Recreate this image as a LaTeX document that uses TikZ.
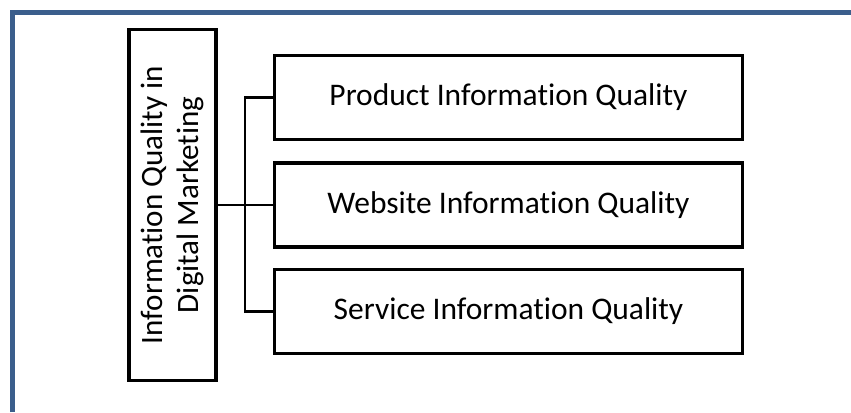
\documentclass[tikz,border=0pt]{standalone}
\usepackage{fontspec}
\setmainfont{Carlito}[Ligatures=NoCommon]
\usepackage{tikz}
\definecolor{framecol}{RGB}{59,94,140}
\tikzset{infobox/.style={draw, line width=2.6pt, minimum width=351pt, minimum height=63pt, inner sep=0pt, font=\fontsize{23.6}{28}\selectfont}}
\tikzset{mainbox/.style={draw, line width=2.6pt, rotate=90, minimum width=263pt, minimum height=65pt, inner sep=0pt, align=center, font=\fontsize{23.3}{27}\selectfont}}

\begin{document}
\begin{tikzpicture}[x=0.75pt,y=-0.75pt]
  \useasboundingbox (0,0) rectangle (851,412);
  % frame
  \draw[framecol, line width=3.2pt] (12.5,412) -- (12.5,12.5) -- (851,12.5);
  \node[mainbox] (main) at (172.5,205) {Information Quality in\\Digital Marketing};
  \foreach \y/\lab/\txt in {
    97.5/prod/Product Information Quality,
    205/web/Website Information Quality,
    311.5/serv/Service Information Quality%
  } {
    \node[infobox] (\lab) at (508.5,\y) {\txt};
  }
  \coordinate (top) at (245,97.5);
  \coordinate (bot) at (245,311.5);
  \draw[line width=1.6pt] (prod.west) -- (top) -- (bot) -- (serv.west);
  \draw[line width=1.6pt] (main.south) -- (web.west);
\end{tikzpicture}
\end{document}
